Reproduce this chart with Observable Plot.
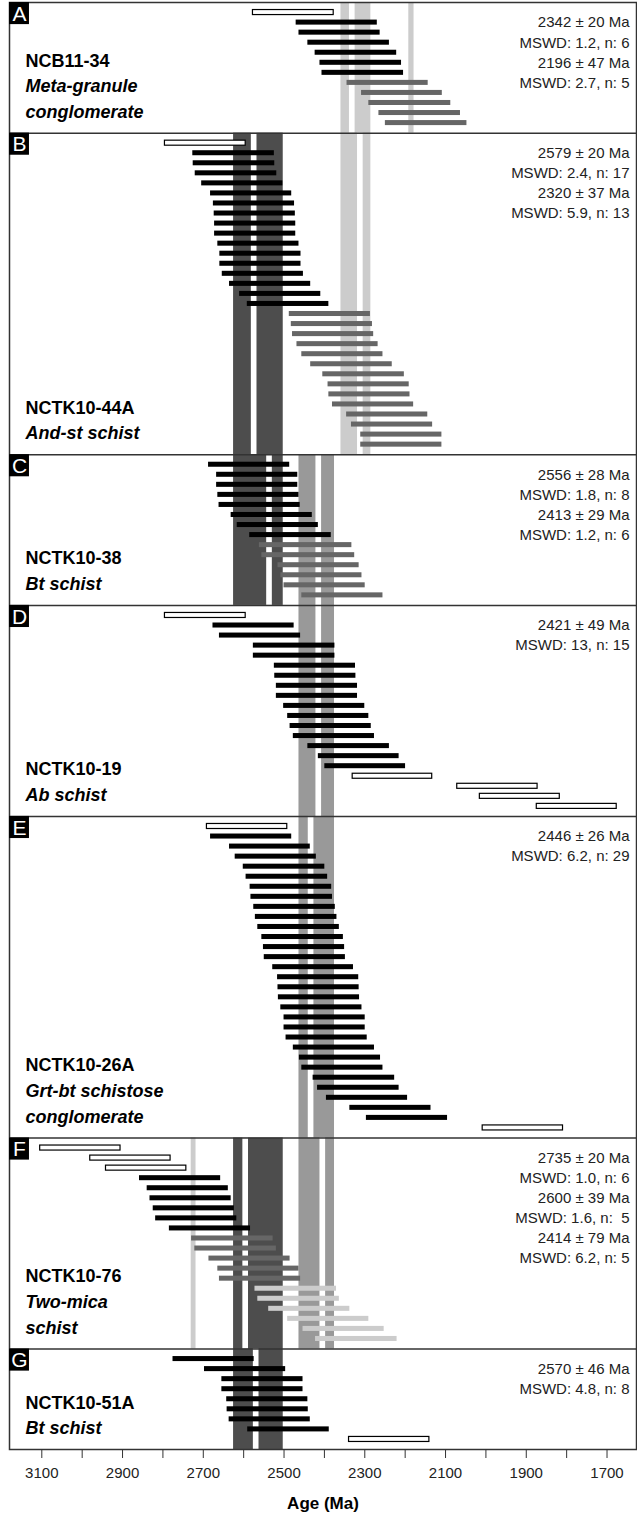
<!DOCTYPE html>
<html><head><meta charset="utf-8">
<script src="https://cdn.jsdelivr.net/npm/d3@7"></script>
<script src="https://cdn.jsdelivr.net/npm/@observablehq/plot@0.6"></script>
<style>
body{margin:0;background:#fff}
#chart svg{display:block}
</style>
</head><body><div id="chart"></div>
<script>
const xDomain = [3180, 1627];
const xTicks = d3.range(1700, 3101, 100);
const panelLetters = ["A","B","C","D","E","F","G"];
const sampleNames = ["NCB11-34","NCTK10-44A","NCTK10-38","NCTK10-19","NCTK10-26A","NCTK10-76","NCTK10-51A"];
const lithologies = [["Meta-granule","conglomerate"],["And-st schist"],["Bt schist"],["Ab schist"],["Grt-bt schistose","conglomerate"],["Two-mica","schist"],["Bt schist"]];
const ageTexts = [
  ["2342 ± 20 Ma","MSWD: 1.2, n: 6","2196 ± 47 Ma","MSWD: 2.7, n: 5"],
  ["2579 ± 20 Ma","MSWD: 2.4, n: 17","2320 ± 37 Ma","MSWD: 5.9, n: 13"],
  ["2556 ± 28 Ma","MSWD: 1.8, n: 8","2413 ± 29 Ma","MSWD: 1.2, n: 6"],
  ["2421 ± 49 Ma","MSWD: 13, n: 15"],
  ["2446 ± 26 Ma","MSWD: 6.2, n: 29"],
  ["2735 ± 20 Ma","MSWD: 1.0, n: 6","2600 ± 39 Ma","MSWD: 1.6, n:  5","2414 ± 79 Ma","MSWD: 6.2, n: 5"],
  ["2570 ± 46 Ma","MSWD: 4.8, n: 8"]
];
// bars: [kind, older age, younger age]; kind o=open, k=black, d=dark grey, l=light grey
const barsA = [["o",2577,2377],["k",2470,2269],["k",2463,2262],["k",2441,2239],["k",2423,2221],["k",2411,2209],["k",2406,2204],
  ["d",2344,2143],["d",2308,2108],["d",2290,2087],["d",2265,2063],["d",2249,2047]];
const barsB = [["o",2795,2595],["k",2726,2524],["k",2725,2523],["k",2720,2518],["k",2704,2503],["k",2682,2481],["k",2675,2474],
  ["k",2673,2472],["k",2672,2471],["k",2672,2471],["k",2664,2463],["k",2659,2458],["k",2659,2458],["k",2653,2452],["k",2635,2434],
  ["k",2610,2409],["k",2591,2389],
  ["d",2487,2286],["d",2482,2281],["d",2479,2278],["d",2468,2267],["d",2456,2255],["d",2434,2232],["d",2404,2202],["d",2391,2190],
  ["d",2389,2188],["d",2380,2179],["d",2345,2144],["d",2333,2132],["d",2310,2109],["d",2310,2109]];
const barsC = [["k",2687,2486],["k",2667,2466],["k",2667,2466],["k",2664,2463],["k",2661,2460],["k",2631,2430],["k",2616,2415],["k",2585,2383],
  ["d",2561,2332],["d",2555,2325],["d",2515,2314],["d",2508,2307],["d",2500,2299],["d",2456,2255]];
const barsD = [["o",2795,2595],["k",2676,2475],["k",2660,2459],["k",2576,2374],["k",2576,2374],["k",2524,2323],["k",2523,2322],
  ["k",2519,2318],["k",2519,2318],["k",2501,2300],["k",2491,2290],["k",2485,2284],["k",2477,2276],["k",2441,2239],["k",2415,2215],
  ["k",2399,2199],["o",2330,2133],["o",2071,1872],["o",2015,1817],["o",1874,1676]];
const barsE = [["o",2691,2492],["k",2682,2481],["k",2635,2435],["k",2621,2420],["k",2601,2399],["k",2594,2392],["k",2584,2382],
  ["k",2582,2380],["k",2575,2373],["k",2571,2369],["k",2565,2363],["k",2555,2353],["k",2551,2350],["k",2549,2348],["k",2528,2328],
  ["k",2516,2315],["k",2515,2314],["k",2514,2313],["k",2508,2307],["k",2500,2299],["k",2500,2299],["k",2495,2294],["k",2477,2276],
  ["k",2462,2261],["k",2456,2255],["k",2428,2226],["k",2417,2215],["k",2395,2194],["k",2337,2136],["k",2296,2095],["o",2008,1809]];
const barsF = [["o",3104,2905],["o",2980,2781],["o",2941,2742],
  ["k",2858,2657],["k",2839,2638],["k",2832,2631],["k",2824,2623],["k",2818,2617],["k",2784,2583],
  ["d",2729,2527],["d",2721,2519],["d",2686,2485],["d",2664,2463],["d",2660,2459],
  ["l",2572,2370],["l",2565,2363],["l",2538,2337],["l",2491,2290],["l",2453,2252],["l",2422,2220]];
const barsG = [["k",2775,2574],["k",2697,2496],["k",2654,2453],["k",2654,2453],["k",2642,2441],["k",2641,2440],["k",2636,2435],["k",2590,2388],
  ["o",2339,2140]];
// background bands: [shade, older, younger, first panel, last panel]
const bands = [
  ["light",2359,2285,0,1],["light",2191,2178,0,0],
  ["dark",2625,2502,1,2],["medium",2463,2375,2,5],
  ["light",2730,2718,5,5],["dark",2625,2502,5,6]
];
// white mean lines: [panel, age]
const meanLines = [[0,2331],[1,2311],[1,2574],[2,2536],[2,2414],[3,2414],[4,2433],[5,2595],[5,2404],[6,2569]];

const panelBars = [barsA,barsB,barsC,barsD,barsE,barsF,barsG];
const starts = [0];
panelBars.forEach((b,i)=>starts.push(starts[i] + b.length + 1));
const totalRows = starts[starts.length-1];

const bars = panelBars.flatMap((b,p)=>b.map((d,i)=>({kind:d[0], x1:d[1], x2:d[2], row: starts[p]+1+i})));
const shadeColor = {light:"#cccccc", medium:"#999999", dark:"#4d4d4d"};
const barFill = {o:"#ffffff", k:"#000000", d:"#666666", l:"#cccccc"};
const bandData = bands.map(d=>({shade:d[0], x1:d[1], x2:d[2], y1:starts[d[3]], y2:starts[d[4]+1]}));
const meanData = meanLines.map(d=>({x:d[1], y1:starts[d[0]], y2:starts[d[0]+1]}));
const rightTexts = ageTexts.flatMap((t,p)=>t.map((s,i)=>({text:s, row: starts[p]+2+2*i})));
const nameTexts = sampleNames.flatMap((n,p)=>{
  const lines = [{text:n, italic:false}, ...lithologies[p].map(s=>({text:s, italic:true}))];
  return lines.map((l,i)=>({...l, row: starts[p+1] - 2.1 - (lines.length-1-i)*2.55}));
});
const letterData = panelLetters.map((l,p)=>({text:l, row: starts[p]}));
const boxW = 20/ (628/(xDomain[0]-xDomain[1]));
const font = "'Liberation Sans', Arial, sans-serif";

const chart = Plot.plot({
  width: 637, height: 1521,
  marginLeft: 9, marginRight: 1, marginTop: 2, marginBottom: 72,
  style: {fontFamily: font, fontSize: "15px", color:"#222", background:"#fff"},
  x: {domain: xDomain},
  y: {domain: [0, totalRows], range: [2, 1449], axis: null},
  marks: [
    Plot.rect(bandData, {x1:"x1", x2:"x2", y1:"y1", y2:"y2", fill: d=>shadeColor[d.shade]}),
    Plot.rect(meanData, {x1: d=>d.x+7, x2: d=>d.x-7, y1:"y1", y2:"y2", fill:"#ffffff"}),
    Plot.rect(bars, {x1:"x1", x2:"x2", y1: d=>d.row-0.25, y2: d=>d.row+0.25,
      fill: d=>barFill[d.kind], stroke: d=>d.kind==="o" ? "#000" : "none", strokeWidth: 1.2}),
    Plot.ruleY(starts.slice(1,-1), {stroke:"#333", strokeWidth:1.5}),
    Plot.frame({stroke:"#333", strokeWidth:1.5}),
    Plot.rect(letterData, {x1: xDomain[0], x2: xDomain[0]-boxW, y1: d=>d.row, y2: d=>d.row+2.2, fill:"#000"}),
    Plot.text(letterData, {text:"text", y: d=>d.row+1.15, frameAnchor:"left", dx:10, textAnchor:"middle", fill:"#fff", fontSize:21}),
    Plot.text(rightTexts, {text:"text", y:"row", frameAnchor:"right", dx:-7, textAnchor:"end", fill:"#222", fontSize:15}),
    Plot.text(nameTexts.filter(d=>!d.italic), {text:"text", y:"row", frameAnchor:"left", dx:16, textAnchor:"start", fill:"#000", fontSize:18, fontWeight:"bold"}),
    Plot.text(nameTexts.filter(d=>d.italic), {text:"text", y:"row", frameAnchor:"left", dx:16, textAnchor:"start", fill:"#000", fontSize:18, fontWeight:"bold", fontStyle:"italic"}),
    Plot.axisX({ticks: xTicks, tickFormat: d => (3100-d)%200===0 ? String(d) : "", tickSize: 9, tickPadding: 9, label: null, fontSize: 15, stroke:"#333"}),
    Plot.text(["Age (Ma)"], {frameAnchor:"bottom", dy: 59, text: d=>d, fontWeight:"bold", fontSize:17, fill:"#000"})
  ]
});
document.getElementById("chart").appendChild(chart);
</script>
</body></html>
